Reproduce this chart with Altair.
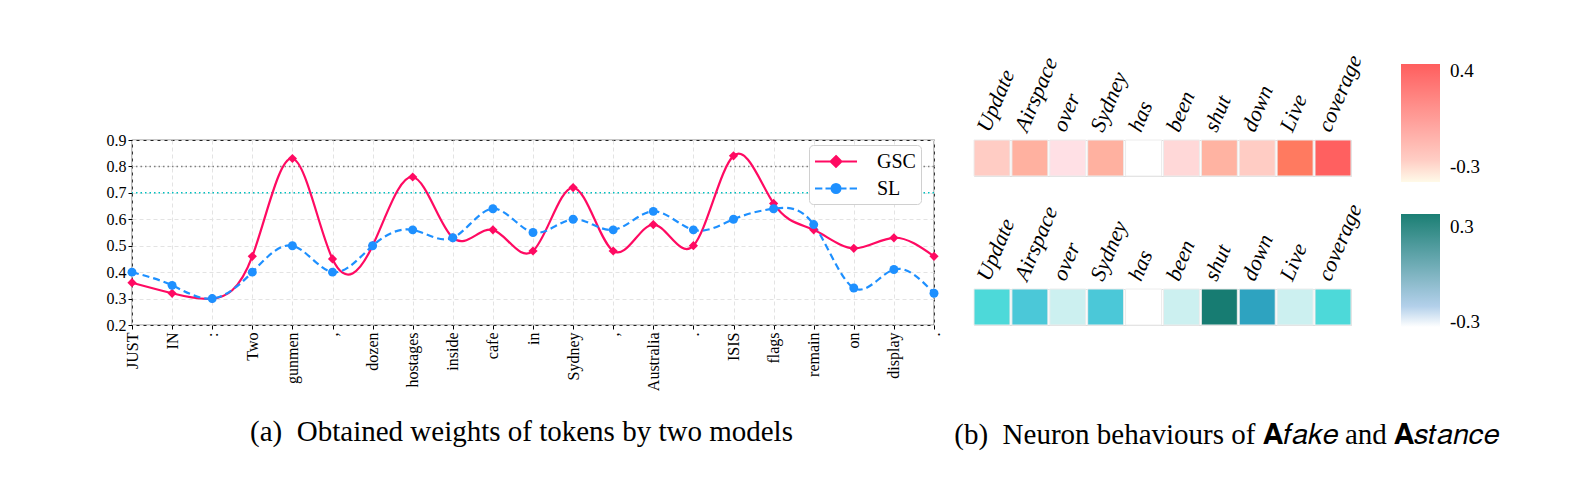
import json
import altair as alt
import pandas as pd

# ---------------- data ----------------
tokens = ["JUST", "IN", ":", "Two", "gunmen", ",", "dozen", "hostages", "inside", "cafe",
          "in", "Sydney", ",", "Australia", ".", "ISIS", "flags", "remain", "on", "display", "."]
gsc_weights = [0.36, 0.32, 0.30, 0.46, 0.83, 0.45, 0.50, 0.76, 0.53, 0.56,
               0.48, 0.72, 0.48, 0.58, 0.50, 0.84, 0.66, 0.56, 0.49, 0.53, 0.46]
sl_weights = [0.40, 0.35, 0.30, 0.40, 0.50, 0.40, 0.50, 0.56, 0.53, 0.64,
              0.55, 0.60, 0.56, 0.63, 0.56, 0.60, 0.64, 0.58, 0.34, 0.41, 0.32]
models = ["GSC", "SL"]
model_colors = ["#ff0a62", "#1e90ff"]
threshold_levels = [0.8, 0.7]
threshold_kinds = ["gray", "cyan"]
y_ticks = [0.2, 0.3, 0.4, 0.5, 0.6, 0.7, 0.8, 0.9]

words = ["Update", "Airspace", "over", "Sydney", "has", "been", "shut", "down", "Live", "coverage"]
fake_values = [-0.10, 0.05, -0.20, 0.05, -0.30, -0.16, 0.04, -0.10, 0.30, 0.40]
stance_values = [0.00, 0.05, -0.20, 0.05, -0.30, -0.20, 0.30, 0.15, -0.20, 0.00]
fake_ticks = [-0.3, 0.4]
stance_ticks = [-0.3, 0.3]

caption_a = "(a)\u2002Obtained weights of tokens by two models"
caption_b = ("(b)\u2002Neuron behaviours of \U0001D400\U0001D453\U0001D44E\U0001D458\U0001D452"
             " and \U0001D400\U0001D460\U0001D461\U0001D44E\U0001D45B\U0001D450\U0001D452")

SERIF = "Liberation Serif"

# ---------------- left chart ----------------
n = len(tokens)
weights_df = pd.DataFrame({
    "idx": list(range(n)) * 2,
    "token": tokens * 2,
    "weight": gsc_weights + sl_weights,
    "model": ["GSC"] * n + ["SL"] * n,
})
levels_df = pd.DataFrame({"level": threshold_levels, "kind": threshold_kinds})

label_expr = json.dumps(tokens) + "[datum.value]"

x_scale = alt.Scale(domain=[0, n - 1], nice=False, zero=False)
y_scale = alt.Scale(domain=[0.2, 0.9], nice=False, zero=False)
x_axis = alt.Axis(values=list(range(n)), labelExpr=label_expr, labelAngle=-90,
                  labelAlign="right", labelBaseline="middle", labelFont=SERIF,
                  labelFontSize=16, labelColor="black", labelPadding=3,
                  tickColor="black", tickSize=4, domain=False, grid=True,
                  gridColor="#e3e3e3", gridDash=[4, 3],
                  title=caption_a, titleFont=SERIF, titleFontSize=29,
                  titleFontWeight="normal", titleColor="black", titlePadding=27,
                  titleX=389)
y_axis = alt.Axis(values=y_ticks, format=".1f", labelFont=SERIF, labelFontSize=16,
                  labelColor="black", tickColor="black", tickSize=4, domain=False,
                  grid=True, gridColor="#e3e3e3", gridDash=[4, 3], title=None)

X = alt.X("idx:Q", scale=x_scale, axis=x_axis)
Y = alt.Y("weight:Q", scale=y_scale, axis=y_axis)

rule_gray = alt.Chart(levels_df).transform_filter("datum.kind == 'gray'").mark_rule(
    color="#808080", strokeDash=[1.5, 3], strokeWidth=1.5
).encode(y=alt.Y("level:Q", scale=y_scale, axis=y_axis))
rule_cyan = alt.Chart(levels_df).transform_filter("datum.kind == 'cyan'").mark_rule(
    color="#00bfbf", strokeDash=[1.5, 3], strokeWidth=1.5
).encode(y=alt.Y("level:Q", scale=y_scale, axis=y_axis))

base = alt.Chart(weights_df)
line_gsc = base.transform_filter("datum.model == 'GSC'").mark_line(
    interpolate="natural", strokeWidth=2.2, color=model_colors[0]).encode(x=X, y=Y)
line_sl = base.transform_filter("datum.model == 'SL'").mark_line(
    interpolate="natural", strokeWidth=2.2, strokeDash=[7, 4], color=model_colors[1]).encode(x=X, y=Y)
pt_gsc = base.transform_filter("datum.model == 'GSC'").mark_point(
    shape="diamond", filled=True, size=85, opacity=1, color=model_colors[0]).encode(x=X, y=Y)
pt_sl = base.transform_filter("datum.model == 'SL'").mark_point(
    shape="circle", filled=True, size=80, opacity=1, color=model_colors[1]).encode(x=X, y=Y)

legend_paths = [
    "M-1,0L3,0M1,-0.52L1.52,0L1,0.52L0.48,0Z",
    "M-1,0L-0.3,0M0.0,0L0.5,0M1.5,0L2.0,0M2.3,0L3,0"
    "M1.43,0A0.43,0.43,0,1,1,0.57,0A0.43,0.43,0,1,1,1.43,0Z",
]
legend_def = alt.Legend(orient="none", legendX=677, legendY=5, title=None,
                        labelFont=SERIF, labelFontSize=20, labelColor="black",
                        labelOffset=40, symbolSize=441, symbolStrokeWidth=2,
                        symbolOpacity=1, padding=5, rowPadding=5,
                        fillColor="white", strokeColor="#d0d0d0", cornerRadius=4)
legend_layer = base.mark_point(filled=True, opacity=0).encode(
    x=X, y=Y,
    shape=alt.Shape("model:N", scale=alt.Scale(domain=models, range=legend_paths), legend=legend_def),
    fill=alt.Fill("model:N", scale=alt.Scale(domain=models, range=model_colors), legend=legend_def),
    stroke=alt.Stroke("model:N", scale=alt.Scale(domain=models, range=model_colors), legend=legend_def),
)

left = alt.layer(rule_gray, rule_cyan, line_gsc, line_sl, pt_gsc, pt_sl, legend_layer).properties(
    width=802, height=185,
    title=alt.TitleParams("\u00a0", fontSize=10, offset=76),
    view=alt.ViewBackground(stroke="#222222", strokeWidth=1.2),
)

# ---------------- right heatmaps ----------------
def heatmap(values, cell_domain, cell_range, bar_domain, bar_range, ticks, legend_y, length):
    df = pd.DataFrame({"word": words, "value": values})
    cells = alt.Chart(df).mark_rect(stroke="#ececec", strokeWidth=1).encode(
        x=alt.X("word:N", sort=words,
                scale=alt.Scale(paddingInner=0.05, paddingOuter=0),
                axis=alt.Axis(orient="top", title=None, labelAngle=-67, labelAlign="left",
                              labelBaseline="middle", labelFont=SERIF, labelFontStyle="italic",
                              labelFontSize=22, labelColor="black", labelPadding=10,
                              labelOffset=-9, ticks=False, tickSize=0, domain=False,
                              labelOverlap=False)),
        color=alt.Color("value:Q", scale=alt.Scale(domain=cell_domain, range=cell_range,
                                                   interpolate="rgb"), legend=None),
    )
    bar = alt.Chart(df).transform_filter("datum.value > 9").mark_rect().encode(
        color=alt.Color("value:Q",
                        scale=alt.Scale(domain=bar_domain, range=bar_range, interpolate="rgb"),
                        legend=alt.Legend(orient="none", legendX=427, legendY=legend_y,
                                          direction="vertical", type="gradient",
                                          gradientLength=length, gradientThickness=39,
                                          gradientStrokeWidth=0, values=ticks, format=".1f",
                                          labelExpr="replace(datum.label, '\u2212', '-')",
                                          labelFont=SERIF, labelFontSize=19,
                                          labelColor="black", labelOffset=10, title=None)),
    )
    return alt.layer(cells, bar).resolve_scale(color="independent").properties(width=377, height=36)

heat_fake = heatmap(
    fake_values,
    [-0.3, -0.2, -0.1, 0.05, 0.3, 0.4],
    ["#ffffff", "#ffe0e5", "#ffccc4", "#ffb1a0", "#ff7a60", "#ff6060"],
    [-0.41, -0.25, 0.45],
    ["#fffae8", "#ffcdc4", "#ff5e5e"],
    fake_ticks, -76, 118,
)
heat_stance = heatmap(
    stance_values,
    [-0.3, -0.2, 0.0, 0.05, 0.15, 0.3],
    ["#ffffff", "#ccf0f0", "#4dd9d9", "#4bc8d8", "#2ea3c0", "#177c72"],
    [-0.33, -0.2, 0.38],
    ["#ffffff", "#b3d0ea", "#1b7f74"],
    stance_ticks, -75, 113,
)

right = alt.vconcat(heat_fake, heat_stance, spacing=16).properties(
    title=alt.TitleParams(caption_b, orient="bottom", anchor="middle", offset=87,
                          fontSize=29, font=SERIF, fontWeight="normal", color="black")
)

chart = alt.hconcat(left, right, spacing=11).properties(
    padding={"left": 97, "top": 37, "right": 5, "bottom": 5}
).configure_view(strokeWidth=0).configure(font=SERIF)

chart.save("out.html", embed_options={"renderer": "svg", "actions": False})
